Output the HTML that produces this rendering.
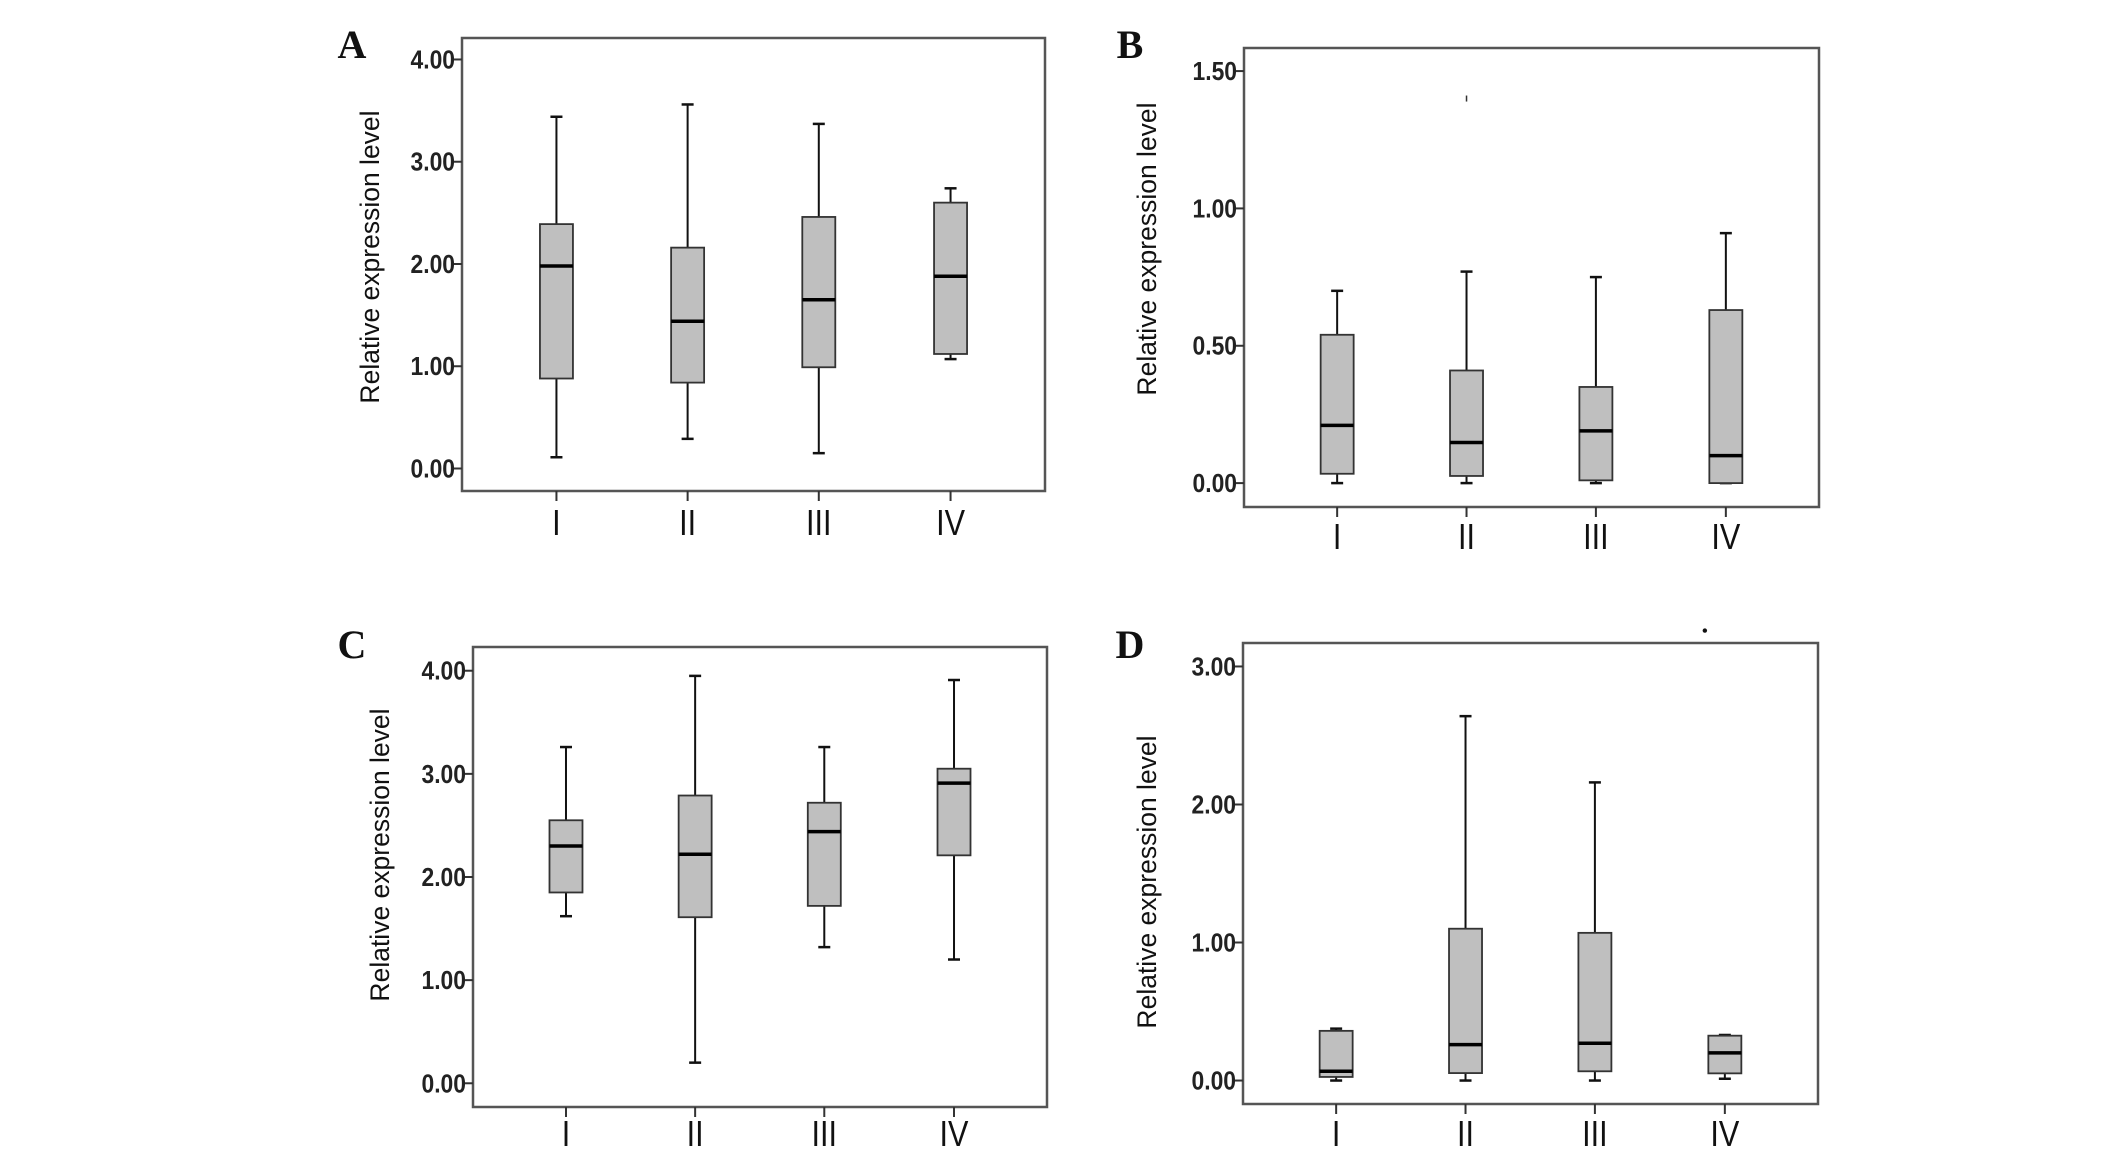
<!DOCTYPE html>
<html><head><meta charset="utf-8"><style>
html,body{margin:0;padding:0;background:#fff;}
svg{display:block;}
</style></head><body>
<svg id="fig" width="2126" height="1152" xmlns="http://www.w3.org/2000/svg"></svg>
<script>
const categories = ["I","II","III","IV"];
// panel A
const aLow = [0.11,0.29,0.15,1.07];
const aQ1 = [0.88,0.84,0.99,1.12];
const aMed = [1.98,1.44,1.65,1.88];
const aQ3 = [2.39,2.16,2.46,2.60];
const aHigh = [3.44,3.56,3.37,2.74];
const aTicks = [0,1,2,3,4];
// panel B
const bLow = [0,0,0,0];
const bQ1 = [0.034,0.026,0.01,0.0];
const bMed = [0.21,0.148,0.19,0.10];
const bQ3 = [0.54,0.41,0.35,0.63];
const bHigh = [0.70,0.77,0.75,0.91];
const bTicks = [0,0.5,1.0,1.5];
const bOutliers = [{cat:1, v:1.40}];
// panel C
const cLow = [1.62,0.20,1.32,1.20];
const cQ1 = [1.85,1.61,1.72,2.21];
const cMed = [2.30,2.22,2.44,2.91];
const cQ3 = [2.55,2.79,2.72,3.05];
const cHigh = [3.26,3.95,3.26,3.91];
const cTicks = [0,1,2,3,4];
// panel D
const dLow = [0,0,0,0.013];
const dQ1 = [0.026,0.054,0.067,0.052];
const dMed = [0.067,0.26,0.27,0.20];
const dQ3 = [0.36,1.10,1.07,0.325];
const dHigh = [0.376,2.64,2.16,0.33];
const dTicks = [0,1,2,3];
const dOutliers = [{cat:3, v:3.26}];

const NS="http://www.w3.org/2000/svg";
const svg=document.getElementById('fig');
function mk(tag,attrs,parent,text){
  const e=document.createElementNS(NS,tag);
  for(const k in attrs) e.setAttribute(k,attrs[k]);
  if(text!==undefined) e.textContent=text;
  (parent||svg).appendChild(e); return e;
}
const panels=[
 {id:'a',letter:'A',L:462,R:1045,T:38,B:491,ymin:-0.22,ymax:4.21,low:aLow,q1:aQ1,med:aMed,q3:aQ3,high:aHigh,ticks:aTicks,out:[],lx:352,ly:58,tx:372,ty:257,labY:535},
 {id:'b',letter:'B',L:1244,R:1819,T:48,B:507,ymin:-0.087,ymax:1.584,low:bLow,q1:bQ1,med:bMed,q3:bQ3,high:bHigh,ticks:bTicks,out:bOutliers,lx:1130,ly:58,tx:1149,ty:249,labY:549},
 {id:'c',letter:'C',L:473,R:1047,T:647,B:1107,ymin:-0.23,ymax:4.23,low:cLow,q1:cQ1,med:cMed,q3:cQ3,high:cHigh,ticks:cTicks,out:[],lx:352,ly:658,tx:382,ty:855,labY:1146},
 {id:'d',letter:'D',L:1243,R:1818,T:643,B:1104,ymin:-0.17,ymax:3.17,low:dLow,q1:dQ1,med:dMed,q3:dQ3,high:dHigh,ticks:dTicks,out:dOutliers,lx:1130,ly:658,tx:1149,ty:882,labY:1146}
];
const catFrac=[0.162,0.387,0.612,0.838];
panels.forEach(p=>{
  const g=mk('g',{});
  
  
  const y=v=>p.B-(v-p.ymin)/(p.ymax-p.ymin)*(p.B-p.T);
  const x=i=>p.L+catFrac[i]*(p.R-p.L);
  const lt=mk('text',{x:p.lx,y:p.ly,'font-family':'Liberation Serif, serif','font-weight':'bold','font-size':40,'text-anchor':'middle',fill:'#111'},g,p.letter);
  
  
  const fr=mk('rect',{x:p.L,y:p.T,width:p.R-p.L,height:p.B-p.T,fill:'none',stroke:'#555','stroke-width':2.5},g);
  
  
  p.ticks.forEach(t=>{
    const yy=y(t);
    mk('line',{x1:p.L-9,x2:p.L,y1:yy,y2:yy,stroke:'#333','stroke-width':2},g);
    const tl=mk('text',{x:p.L-7,y:yy+9,'font-family':'Liberation Sans, sans-serif','font-weight':'bold','font-size':26,'text-anchor':'end',fill:'#222',transform:`translate(${p.L-7},0) scale(0.88,1) translate(${-(p.L-7)},0)`},g,t.toFixed(2));
    
    
  });
  const yt=mk('text',{x:p.tx,y:p.ty,'font-family':'Liberation Sans, sans-serif','font-size':26.5,'text-anchor':'middle','dominant-baseline':'middle',fill:'#111',transform:`rotate(-90 ${p.tx} ${p.ty})`},g,'Relative expression level');
  
  
  categories.forEach((c,i)=>{
    const cx=x(i);
    mk('line',{x1:cx,x2:cx,y1:p.B,y2:p.B+10,stroke:'#333','stroke-width':2},g);
    const xl=mk('text',{x:cx,y:p.labY,'font-family':'Liberation Sans, sans-serif','font-size':36,'text-anchor':'middle',fill:'#111',transform:`translate(${cx},0) scale(0.85,1) translate(${-cx},0)`},g,c);
    
    
    const bw=33, cw=12;
    const wk=mk('g',{},g);
    
    
    mk('line',{x1:cx,x2:cx,y1:y(p.high[i]),y2:y(p.q3[i]),stroke:'#111','stroke-width':2},wk);
    mk('line',{x1:cx,x2:cx,y1:y(p.q1[i]),y2:y(p.low[i]),stroke:'#111','stroke-width':2},wk);
    mk('line',{x1:cx-cw/2,x2:cx+cw/2,y1:y(p.high[i]),y2:y(p.high[i]),stroke:'#111','stroke-width':2.5},wk);
    mk('line',{x1:cx-cw/2,x2:cx+cw/2,y1:y(p.low[i]),y2:y(p.low[i]),stroke:'#111','stroke-width':2.5},wk);
    mk('rect',{x:cx-bw/2,y:y(p.q3[i]),width:bw,height:Math.max(1,y(p.q1[i])-y(p.q3[i])),fill:'#bfbfbf',stroke:'#333','stroke-width':1.8},wk);
    mk('line',{x1:cx-bw/2,x2:cx+bw/2,y1:y(p.med[i]),y2:y(p.med[i]),stroke:'#000','stroke-width':3.5},wk);
  });
  p.out.forEach(o=>{
    const ox=x(o.cat)-(p.id==='d'?20:0);
    let od;
    if(p.id==='b'){
      od=mk('line',{x1:ox,x2:ox,y1:y(o.v)-3,y2:y(o.v)+3,stroke:'#333','stroke-width':1.5},g);
    } else {
      od=mk('circle',{cx:ox,cy:y(o.v),r:2.2,fill:'#111'},g);
    }
    
    
  });
});
</script>
</body></html>
